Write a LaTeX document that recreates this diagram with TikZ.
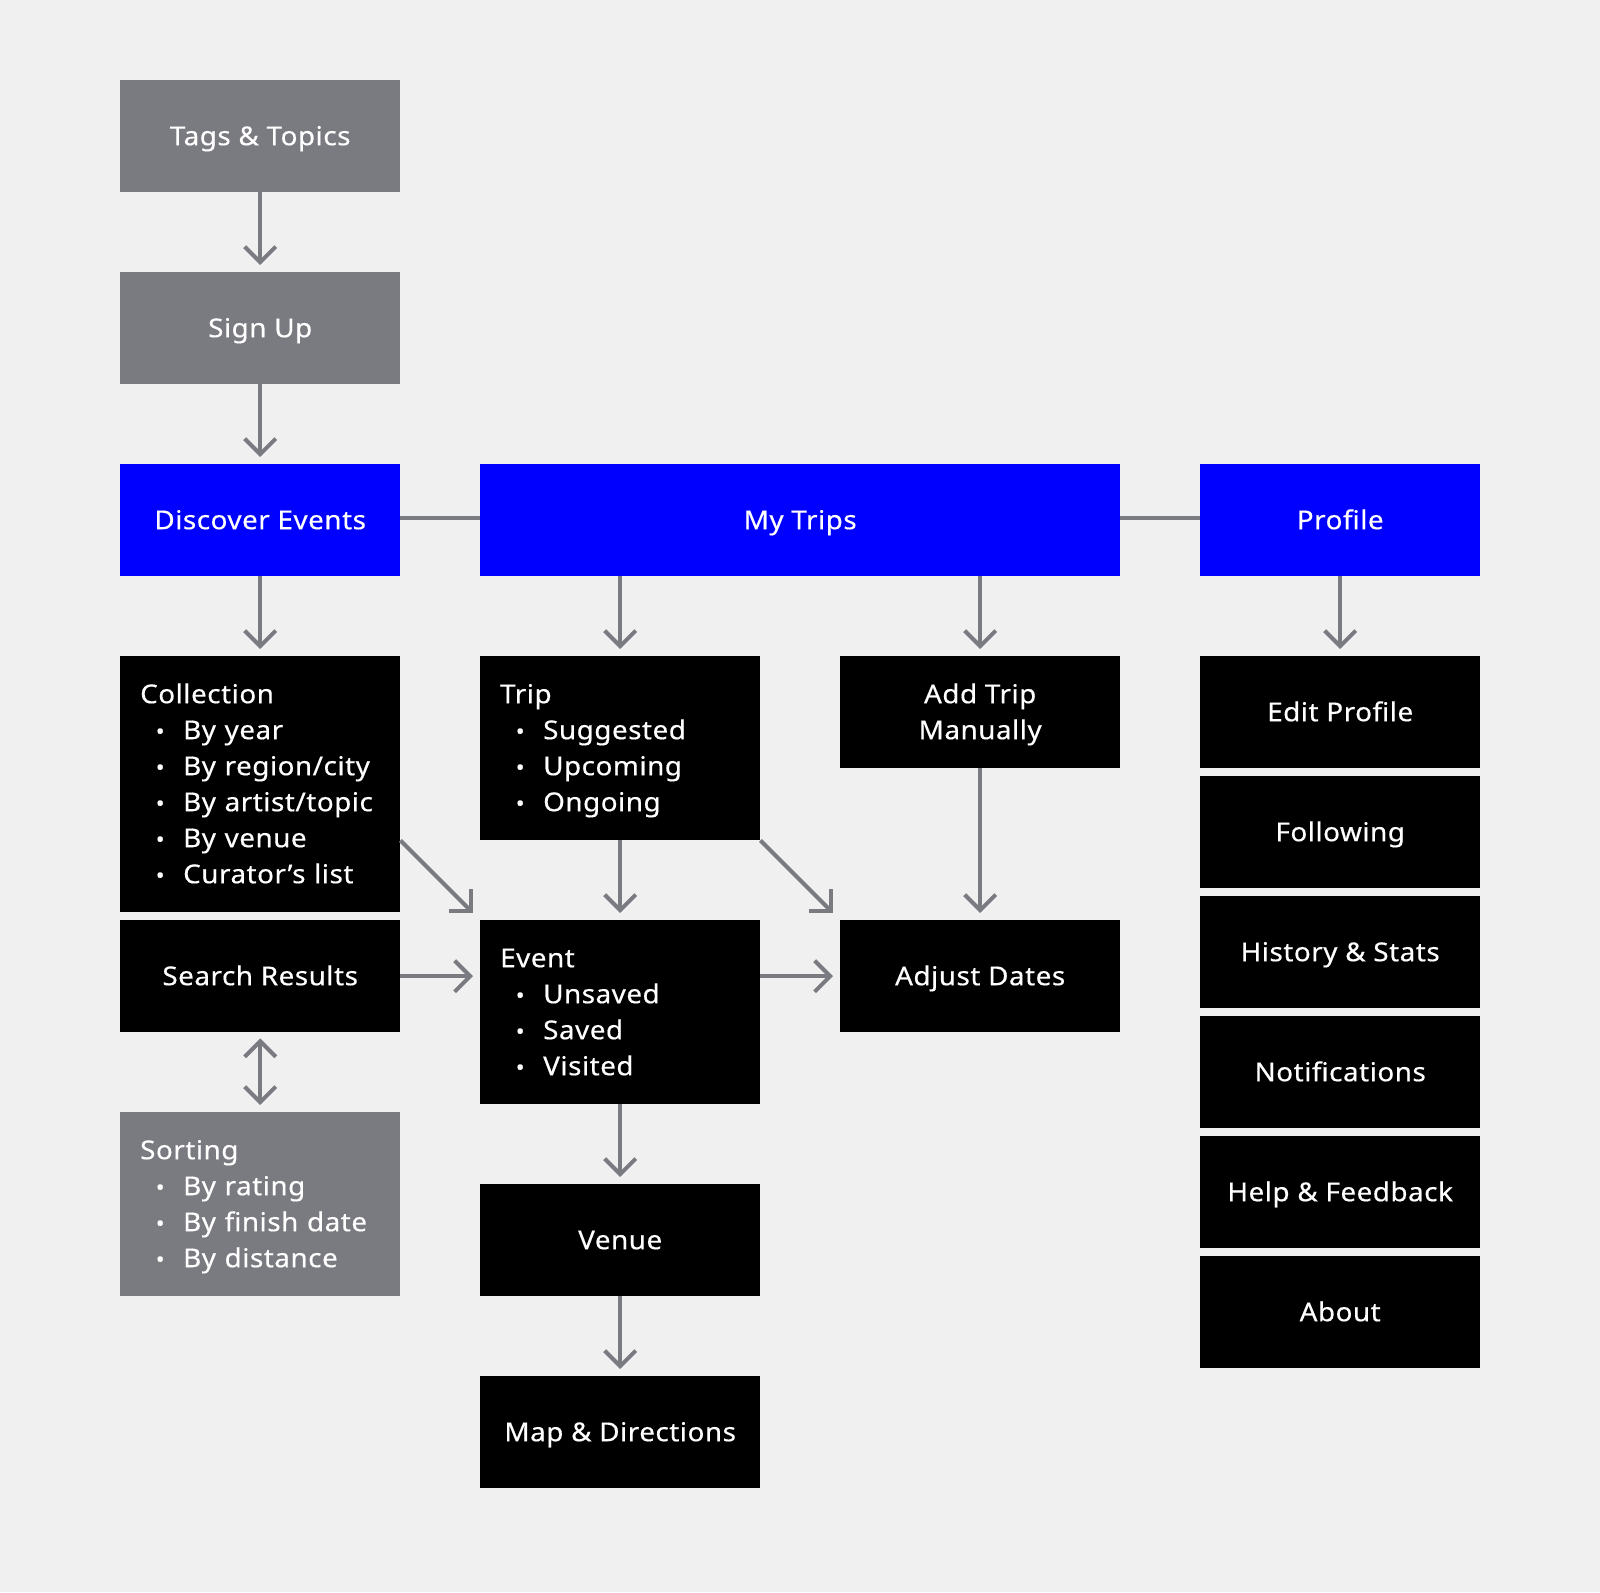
\documentclass[tikz,border=0pt]{standalone}
\usepackage{fontspec}
\setmainfont{Noto Sans}[FakeStretch=1.07, LetterSpace=2, FakeBold=0.4]
\usetikzlibrary{arrows.meta}

\definecolor{canvas}{RGB}{240,240,240}
\definecolor{slate}{RGB}{122,122,129}
\definecolor{navblue}{RGB}{0,0,255}

% fixed line strut: every text line is 36pt high, centred on the cap height
\newcommand\vstrut{\rule[-9pt]{0pt}{36pt}}
% one bullet item of a list box
\newcommand\itm[1]{\hspace*{16pt}\makebox[8pt]{\scalebox{0.85}{•}}\hspace{19pt}#1\vstrut}

\begin{document}
\begin{tikzpicture}[x=1pt,y=-1pt,
  card/.style={rectangle, inner sep=0pt, minimum width=280pt, minimum height=112pt,
    anchor=north west, text=white, font=\fontsize{26}{36}\selectfont,
    execute at begin node=\vstrut},
  wide/.style={card, minimum width=640pt},
  listcard/.style={card, text width=240pt, inner xsep=20pt, align=left},
  greycard/.style={card, fill=slate},
  bluecard/.style={card, fill=navblue},
  darkcard/.style={card, fill=black},
  link/.style={draw=slate, line width=4pt},
  barb/.tip={Straight Barb[angle=90:22pt]},
  flow/.style={link, -barb, shorten >=7pt},
  diagflow/.style={link, -barb, shorten >=10pt},
  twoway/.style={link, barb-barb, shorten >=7pt, shorten <=6pt}
]
% canvas
\fill[canvas] (0,0) rectangle (1600,1592);

% onboarding column
\node[greycard] (tags) at (120,80) {Tags \& Topics};
\node[greycard] (signup) at (120,272) {Sign Up};

% main tabs
\node[bluecard] (discover) at (120,464) {Discover Events};
\node[bluecard, wide] (mytrips) at (480,464) {My Trips};
\node[bluecard] (profile) at (1200,464) {Profile};

% discover column
\node[darkcard, listcard, minimum height=256pt] (collection) at (120,656)
  {Collection\vstrut\\ \itm{By year}\\ \itm{By region/city}\\ \itm{By artist/topic}\\ \itm{By venue}\\ \itm{Curator’s list}};
\node[darkcard] (search) at (120,920) {Search Results};
\node[greycard, listcard, minimum height=184pt] (sorting) at (120,1112)
  {Sorting\vstrut\\ \itm{By rating}\\ \itm{By finish date}\\ \itm{By distance}};

% trips columns
\node[darkcard, listcard, minimum height=184pt] (trip) at (480,656)
  {Trip\vstrut\\ \itm{Suggested}\\ \itm{Upcoming}\\ \itm{Ongoing}};
\node[darkcard, listcard, minimum height=184pt] (event) at (480,920)
  {Event\vstrut\\ \itm{Unsaved}\\ \itm{Saved}\\ \itm{Visited}};
\node[darkcard] (venue) at (480,1184) {Venue};
\node[darkcard] (map) at (480,1376) {Map \& Directions};
\node[darkcard, align=center] (addtrip) at (840,656) {Add Trip\vstrut\\ Manually\vstrut};
\node[darkcard] (adjust) at (840,920) {Adjust Dates};

% profile column
\node[darkcard] (editprofile) at (1200,656) {Edit Profile};
\node[darkcard] (following) at (1200,776) {Following};
\node[darkcard] (history) at (1200,896) {History \& Stats};
\node[darkcard] (notifications) at (1200,1016) {Notifications};
\node[darkcard] (help) at (1200,1136) {Help \& Feedback};
\node[darkcard] (about) at (1200,1256) {About};

% tab bar links
\draw[link] ([yshift=2pt]discover.east) -- ([yshift=2pt]mytrips.west);
\draw[link] ([yshift=2pt]mytrips.east) -- ([yshift=2pt]profile.west);

% flows
\draw[flow] (tags.south) -- (signup.north);
\draw[flow] (signup.south) -- (discover.north);
\draw[flow] (discover.south) -- (collection.north);
\draw[flow] (trip.north |- mytrips.south) -- (trip.north);
\draw[flow] (addtrip.north |- mytrips.south) -- (addtrip.north);
\draw[flow] (profile.south) -- (editprofile.north);

\draw[diagflow] (trip.south -| collection.east) -- (event.north west);
\draw[diagflow] (trip.south east) -- (adjust.north west);
\draw[flow] (trip.south) -- (event.north);
\draw[flow] (addtrip.south) -- (adjust.north);

\draw[flow] (search.east) -- (event.west |- search.east);
\draw[flow] (event.east |- adjust.west) -- (adjust.west);
\draw[twoway] (search.south) -- (sorting.north);

\draw[flow] (event.south) -- (venue.north);
\draw[flow] (venue.south) -- (map.north);
\end{tikzpicture}
\end{document}
